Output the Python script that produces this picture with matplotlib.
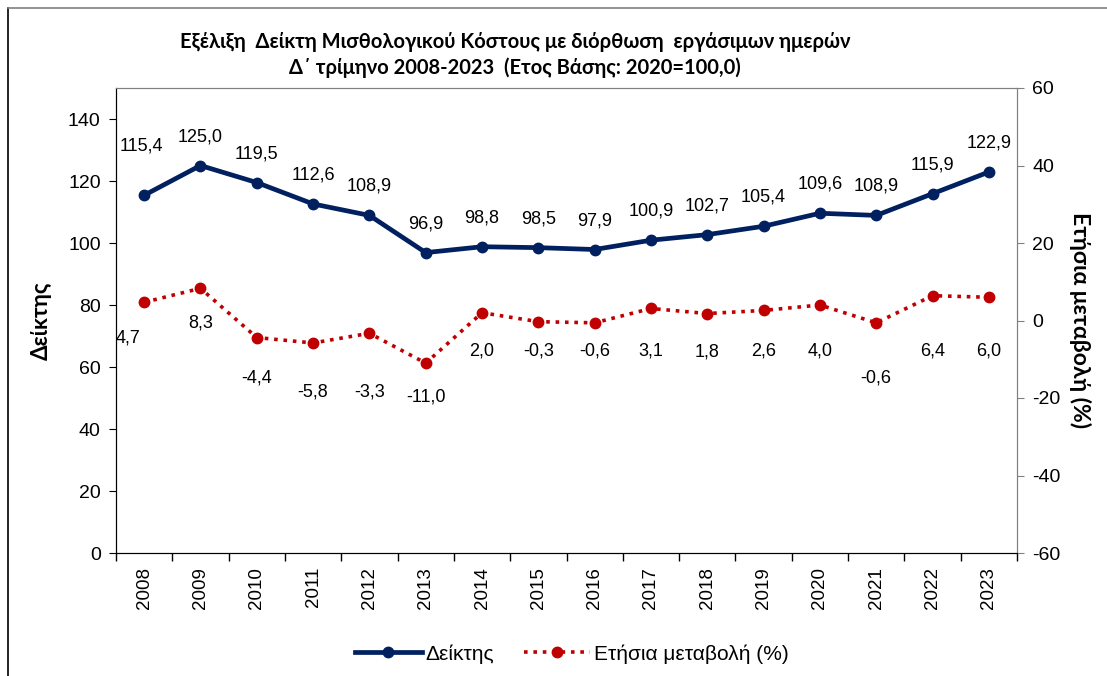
import matplotlib.pyplot as plt
from matplotlib.lines import Line2D

years = [str(y) for y in range(2008, 2024)]
index_values = [115.4, 125.0, 119.5, 112.6, 108.9, 96.9, 98.8, 98.5, 97.9,
                100.9, 102.7, 105.4, 109.6, 108.9, 115.9, 122.9]
annual_change = [4.7, 8.3, -4.4, -5.8, -3.3, -11.0, 2.0, -0.3, -0.6,
                 3.1, 1.8, 2.6, 4.0, -0.6, 6.4, 6.0]

title = ("Εξέλιξη  Δείκτη Μισθολογικού Κόστους με διόρθωση  εργάσιμων ημερών\n"
         "Δ΄ τρίμηνο 2008-2023  (Ετος Βάσης: 2020=100,0)")

navy = '#002060'
red = '#C00000'
px = 0.72  # pixel -> points at dpi 100

# label offsets (pixels) as placed in the original
idx_dy = [49] + [29] * 15
idx_dx = [-3] + [0] * 15
chg_dy = [36, 35, 40, 49, 59, 34, 38, 29, 28, 43, 38, 41, 46, 55, 55, 54]
chg_dx = [-16] + [0] * 15

plt.rcParams['font.family'] = ['Liberation Sans', 'DejaVu Sans']
plt.rcParams['axes.unicode_minus'] = False

fig = plt.figure(figsize=(11.07, 6.76), dpi=100)
ax = fig.add_axes([116 / 1107, 1 - 553 / 676, (1017 - 116) / 1107, (553 - 88) / 676])
ax2 = ax.twinx()

x = list(range(len(years)))
ax.plot(x, index_values, color=navy, lw=3.4, marker='o', ms=7.5, zorder=3)
ax2.plot(x, annual_change, color=red, lw=2.6, ls=(0, (1, 1.6)), marker='o', ms=7.5,
         zorder=3)

for i, v in enumerate(index_values):
    ax.annotate(f"{v:.1f}".replace('.', ','), (i, v),
                xytext=(idx_dx[i] * px, idx_dy[i] * px),
                textcoords='offset points', ha='center', va='center', fontsize=13)
for i, v in enumerate(annual_change):
    ax2.annotate(f"{v:.1f}".replace('.', ','), (i, v),
                 xytext=(chg_dx[i] * px, -chg_dy[i] * px),
                 textcoords='offset points', ha='center', va='center', fontsize=13)

ax.set_xlim(-0.5, len(years) - 0.5)
ax.set_ylim(0, 150)
ax.set_yticks(range(0, 141, 20))
ax2.set_ylim(-60, 60)
ax2.set_yticks(range(-60, 61, 20))

ax.set_xticks(x)
ax.set_xticklabels(years, rotation=90, fontsize=13.5)
ax.tick_params(axis='x', length=0, pad=10)
ax.set_xticks([i + 0.5 for i in range(-1, len(years))], minor=True)
ax.tick_params(axis='x', which='minor', length=6, width=1, color='black')
ax.tick_params(axis='y', labelsize=14, length=5, color='black', pad=6)
ax2.tick_params(axis='y', labelsize=14, length=5, color='#808080', pad=6)

for a in (ax, ax2):
    a.spines['top'].set_color('#808080')
    a.spines['right'].set_color('#808080')
    a.spines['left'].set_color('black')
    a.spines['bottom'].set_color('black')

ax.set_ylabel("Δείκτης", fontsize=16, fontweight='bold', family='Lato', labelpad=12)
ax2.set_ylabel("Ετήσια μεταβολή (%)", fontsize=16.5, fontweight='bold', family='Lato',
               rotation=-90, labelpad=22)

fig.text(515 / 1107, 1 - 55 / 676, title, ha='center', va='center', fontsize=14.5,
         fontweight='bold', family='Lato', linespacing=1.35)

handles = [
    Line2D([], [], color=navy, lw=3.4, marker='o', ms=7.5),
    Line2D([], [], color=red, lw=2.6, ls=(0, (1, 1.6)), marker='o', ms=7.5),
]
fig.legend(handles, ["Δείκτης", "Ετήσια μεταβολή (%)"], loc='center',
           bbox_to_anchor=(572 / 1107, 1 - 654 / 676), ncol=2, frameon=False,
           fontsize=15, handlelength=3.2, columnspacing=1.4, handletextpad=0.2)

# outer chart border (left and top visible)
fig.add_artist(Line2D([8 / 1107, 8 / 1107], [0, 1 - 8 / 676], color='black', lw=1.2,
                      transform=fig.transFigure))
fig.add_artist(Line2D([8 / 1107, 1], [1 - 8 / 676, 1 - 8 / 676], color='#808080', lw=1.2,
                      transform=fig.transFigure))

fig.savefig('out.png', dpi=100)
